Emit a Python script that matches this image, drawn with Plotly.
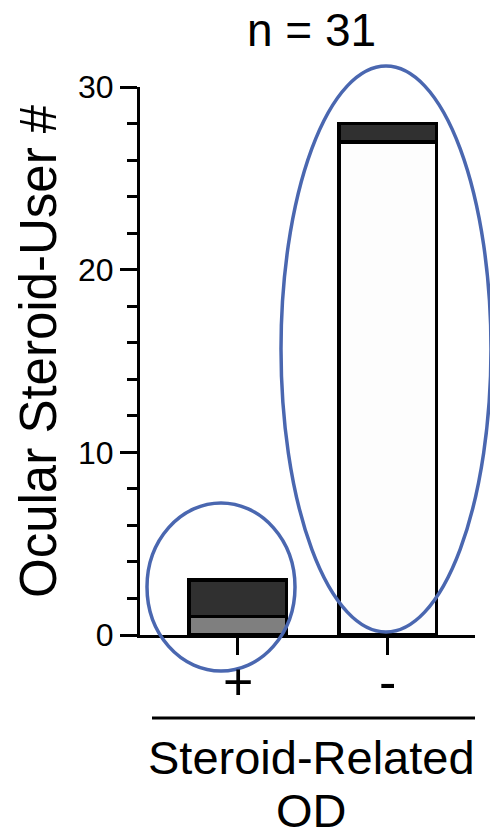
import plotly.graph_objects as go

# ---- data ----
categories = ["+", "-"]
bottom_values = [1, 27]      # gray (+) / white (-) segment
top_values = [2, 1]          # dark segment
bottom_colors = ["#7f7f7f", "#fdfdfd"]
top_color = "#303030"
y_ticks = [0, 10, 20, 30]
title_text = "n = 31"
y_title = "Ocular Steroid-User #"
x_title_lines = ["Steroid-Related", "OD"]

W, H = 490, 839
L, R, T, B = 140, 15, 87, 204
PW, PH = W - L - R, H - T - B


def px(xp):
    return (xp - L) / PW


def py(yp):
    return (H - B - yp) / PH


FONT = "Liberation Sans, Arial, sans-serif"
BLUE = "#4a67b0"

fig = go.Figure()
fig.add_trace(go.Bar(x=categories, y=bottom_values, width=0.65,
                     marker=dict(color=bottom_colors, line=dict(color="black", width=3.5)),
                     showlegend=False))
fig.add_trace(go.Bar(x=categories, y=top_values, width=0.65,
                     marker=dict(color=top_color, line=dict(color="black", width=3.5)),
                     showlegend=False))

fig.update_layout(
    barmode="stack",
    width=W, height=H,
    margin=dict(l=L, r=R, t=T, b=B, pad=0),
    paper_bgcolor="white", plot_bgcolor="white",
    font=dict(family=FONT, color="black"),
    xaxis=dict(range=[-0.653, 1.58], showline=True, linecolor="black", linewidth=3,
               ticks="outside", ticklen=17, tickwidth=3, tickcolor="black",
               showticklabels=False, showgrid=False, zeroline=False,
               fixedrange=True),
    yaxis=dict(range=[0, 30], tickvals=y_ticks, showline=True, linecolor="black", linewidth=3,
               ticks="outside", ticklen=17, tickwidth=3, tickcolor="black",
               tickfont=dict(size=32, family=FONT), showgrid=False, zeroline=False,
               minor=dict(dtick=2, ticks="outside", ticklen=10, tickwidth=3, tickcolor="black",
                          showgrid=False),
               fixedrange=True),
)

# category labels under the ticks
for c in categories:
    fig.add_annotation(text=c, xref="x", yref="paper", x=c, y=py(682),
                       xanchor="center", yanchor="middle", showarrow=False,
                       font=dict(size=52, family=FONT))

fig.add_annotation(text=title_text, xref="paper", yref="paper", x=px(311), y=py(30),
                   xanchor="center", yanchor="middle", showarrow=False,
                   font=dict(size=46, family=FONT))
fig.add_annotation(text=y_title, xref="paper", yref="paper", x=px(38), y=py(351),
                   xanchor="center", yanchor="middle", textangle=-90, showarrow=False,
                   font=dict(size=51, family=FONT))
fig.add_annotation(text=x_title_lines[0], xref="paper", yref="paper", x=px(311), y=py(757),
                   xanchor="center", yanchor="middle", showarrow=False,
                   font=dict(size=47, family=FONT))
fig.add_annotation(text=x_title_lines[1], xref="paper", yref="paper", x=px(311), y=py(839),
                   xanchor="center", yanchor="bottom", showarrow=False,
                   font=dict(size=47, family=FONT))

fig.add_shape(type="line", xref="paper", yref="paper", x0=px(152), x1=px(475),
              y0=py(718), y1=py(718), line=dict(color="black", width=3))
fig.add_shape(type="circle", xref="paper", yref="paper", x0=px(147), x1=px(295),
              y0=py(503), y1=py(671), line=dict(color=BLUE, width=3.5))
fig.add_shape(type="circle", xref="paper", yref="paper", x0=px(281), x1=px(491),
              y0=py(66), y1=py(632), line=dict(color=BLUE, width=3.5))

fig.write_html("out.html")
